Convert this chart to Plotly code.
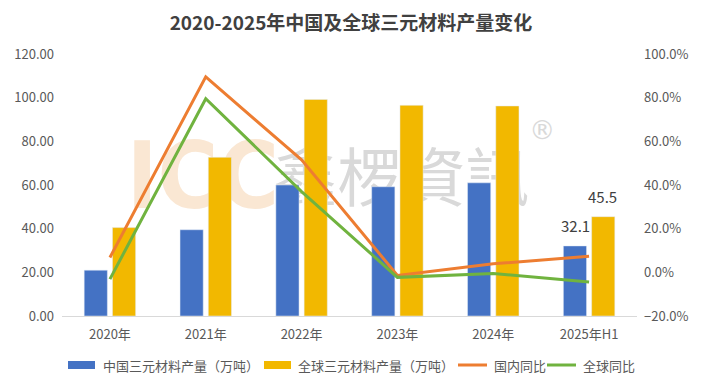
import plotly.graph_objects as go

categories = ["2020年", "2021年", "2022年", "2023年", "2024年", "2025年H1"]
china_output = [21.0, 39.5, 60.0, 59.2, 61.0, 32.1]
global_output = [40.5, 72.7, 99.2, 96.5, 96.2, 45.5]
china_yoy = [0.068, 0.895, 0.515, -0.014, 0.039, 0.074]
global_yoy = [-0.031, 0.795, 0.37, -0.023, -0.005, -0.044]
left_ticks = [0, 20, 40, 60, 80, 100, 120]
right_ticks = [-0.2, 0.0, 0.2, 0.4, 0.6, 0.8, 1.0]

names = ["中国三元材料产量（万吨）", "全球三元材料产量（万吨）", "国内同比", "全球同比"]
colors = ["#4472C4", "#F2B800", "#ED7D31", "#70B33F"]
label_color = "#595959"
cjk = "Noto Sans CJK SC, Noto Sans, sans-serif"

# page body has an 8px default margin; size the figure so the page matches 702x388
OFF = 8
W, H = 702 - OFF, 388 - OFF
plot_left, plot_right, plot_top, plot_bottom = 62, 637, 54, 316   # page pixels
ml, mt = plot_left - OFF, plot_top - OFF
mr, mb = 702 - plot_right, 388 - plot_bottom
pw = plot_right - plot_left
ph = plot_bottom - plot_top

def px_x(px):
    return (px - plot_left) / pw

def px_y(py):
    return (plot_bottom - py) / ph

fig = go.Figure()

# watermark on the base subplot (drawn below bars)
fig.add_trace(go.Scatter(x=[0.245], y=[0.5], mode="text", text=["ICC"],
                         textfont=dict(size=92, color="#FAE7D3",
                                       family="Liberation Sans Narrow, DejaVu Sans Condensed, sans-serif",
                                       weight="bold"),
                         xaxis="x", yaxis="y", showlegend=False, hoverinfo="skip"))
fig.add_trace(go.Scatter(x=[0.59], y=[0.5], mode="text", text=["鑫椤資訊"],
                         textfont=dict(size=64, color="#D9D9D9", family="Noto Sans CJK TC, sans-serif"),
                         xaxis="x", yaxis="y", showlegend=False, hoverinfo="skip"))
fig.add_trace(go.Scatter(x=[0.835], y=[0.70], mode="text", text=["®"],
                         textfont=dict(size=26, color="#D9D9D9", family="DejaVu Sans, sans-serif"),
                         xaxis="x", yaxis="y", showlegend=False, hoverinfo="skip"))

fig.add_trace(go.Bar(x=categories, y=china_output, name=names[0], marker_color=colors[0],
                     xaxis="x2", yaxis="y2", showlegend=False))
fig.add_trace(go.Bar(x=categories, y=global_output, name=names[1], marker_color=colors[1],
                     xaxis="x2", yaxis="y2", showlegend=False))
fig.add_trace(go.Scatter(x=categories, y=china_yoy, name=names[2], mode="lines",
                         line=dict(color=colors[2], width=3),
                         xaxis="x2", yaxis="y3", showlegend=False))
fig.add_trace(go.Scatter(x=categories, y=global_yoy, name=names[3], mode="lines",
                         line=dict(color=colors[3], width=3),
                         xaxis="x2", yaxis="y3", showlegend=False))

annotations = []
# data labels on the last group only
for vals, xs in ((china_output, -13.5), (global_output, 13.5)):
    annotations.append(dict(text=f"{vals[-1]:.1f}", x=categories[-1], y=vals[-1], xref="x2", yref="y2",
                            xshift=xs, yshift=8, yanchor="bottom", xanchor="center", showarrow=False,
                            font=dict(size=15, color="#404040", family=cjk)))

# custom legend (page pixels)
items = [
    ("rect", 68, 95, 101),
    ("rect", 264, 291, 296),
    ("line", 458, 487, 492),
    ("line", 547, 576, 581),
]
ly = 365
shapes = []
for (kind, x0, x1, tx), name, col in zip(items, names, colors):
    if kind == "rect":
        shapes.append(dict(type="rect", xref="paper", yref="paper",
                           x0=px_x(x0), x1=px_x(x1), y0=px_y(ly + 4), y1=px_y(ly - 4),
                           fillcolor=col, line=dict(width=0)))
    else:
        shapes.append(dict(type="line", xref="paper", yref="paper",
                           x0=px_x(x0), x1=px_x(x1), y0=px_y(ly), y1=px_y(ly),
                           line=dict(color=col, width=3)))
    annotations.append(dict(text=name, xref="paper", yref="paper",
                            x=px_x(tx), y=px_y(ly), xanchor="left", yanchor="middle",
                            showarrow=False, font=dict(size=13, color=label_color, family=cjk)))

fig.update_layout(
    width=W, height=H,
    margin=dict(l=ml, r=mr, t=mt, b=mb, pad=0, autoexpand=False),
    paper_bgcolor="white", plot_bgcolor="rgba(0,0,0,0)",
    title=dict(text="2020-2025年中国及全球三元材料产量变化", x=(351 - OFF) / W, xanchor="center",
               y=1 - (23 - OFF) / H, yanchor="middle", automargin=False,
               font=dict(size=19, color="#404040", family=cjk, weight="bold")),
    barmode="group", bargap=0.41, bargroupgap=0.18,
    showlegend=False,
    xaxis=dict(range=[0, 1], visible=False, fixedrange=True, automargin=False),
    yaxis=dict(range=[0, 1], visible=False, fixedrange=True, automargin=False),
    xaxis2=dict(overlaying="x", type="category", showline=True, linecolor="#D9D9D9", linewidth=1,
                ticks="", showgrid=False, zeroline=False, ticklabelstandoff=6, automargin=False,
                tickfont=dict(size=13, color=label_color, family=cjk)),
    yaxis2=dict(overlaying="y", side="left", range=[0, 120], tickvals=left_ticks,
                tickformat=".2f", showgrid=False, zeroline=False, showline=False, ticks="",
                ticklabelstandoff=7, automargin=False,
                tickfont=dict(size=13, color=label_color, family=cjk)),
    yaxis3=dict(overlaying="y", side="right", range=[-0.2, 1.0], tickvals=right_ticks,
                tickformat=".1%", showgrid=False, zeroline=False, showline=False, ticks="",
                ticklabelstandoff=6, automargin=False,
                tickfont=dict(size=13, color=label_color, family=cjk)),
    shapes=shapes, annotations=annotations,
)

fig.write_html("out.html")
